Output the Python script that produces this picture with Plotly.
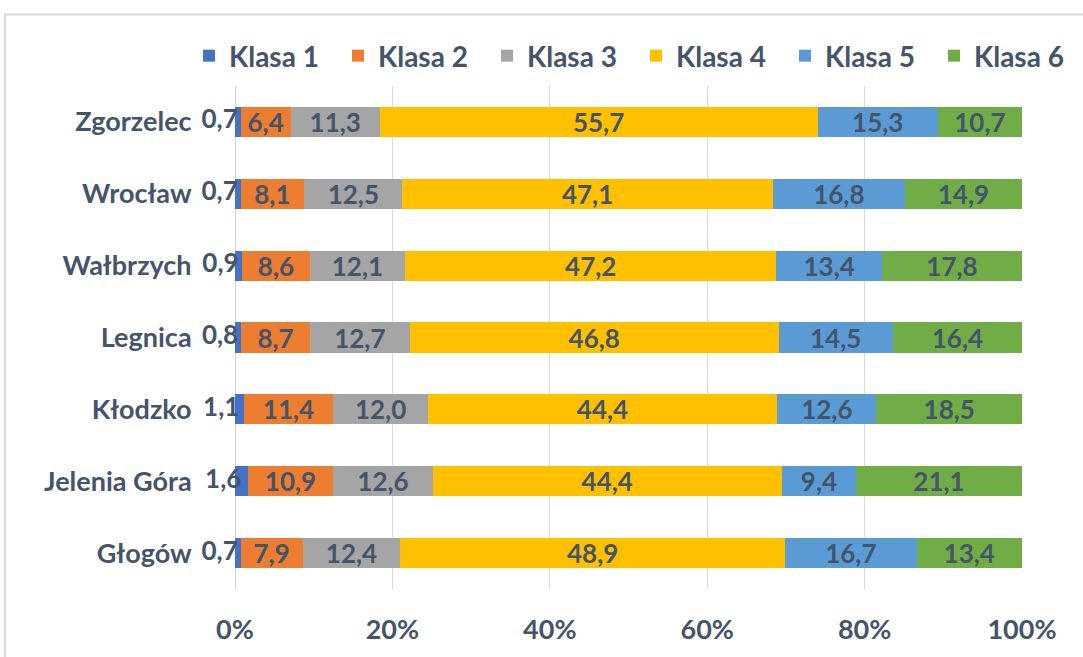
import plotly.graph_objects as go

cities = ["Głogów", "Jelenia Góra", "Kłodzko", "Legnica", "Wałbrzych", "Wrocław", "Zgorzelec"]
klasa1 = [0.7, 1.6, 1.1, 0.8, 0.9, 0.7, 0.7]
klasa2 = [7.9, 10.9, 11.4, 8.7, 8.6, 8.1, 6.4]
klasa3 = [12.4, 12.6, 12.0, 12.7, 12.1, 12.5, 11.3]
klasa4 = [48.9, 44.4, 44.4, 46.8, 47.2, 47.1, 55.7]
klasa5 = [16.7, 9.4, 12.6, 14.5, 13.4, 16.8, 15.3]
klasa6 = [13.4, 21.1, 18.5, 16.4, 17.8, 14.9, 10.7]
series_names = ["Klasa 1", "Klasa 2", "Klasa 3", "Klasa 4", "Klasa 5", "Klasa 6"]
series_values = [klasa1, klasa2, klasa3, klasa4, klasa5, klasa6]
colors = ["#4472C4", "#ED7D31", "#A5A5A5", "#FFC000", "#5B9BD5", "#70AD47"]
tick_vals = [0, 20, 40, 60, 80, 100]
tick_text = ["0%", "20%", "40%", "60%", "80%", "100%"]

FONT = "Lato"
TXT = "#44546A"


def fmt(v):
    return f"{v:.1f}".replace(".", ",")


row_totals = [sum(vals[i] for vals in series_values) for i in range(len(cities))]

fig = go.Figure()
for k, (name, vals, col) in enumerate(zip(series_names, series_values, colors)):
    fig.add_trace(go.Bar(
        y=cities, x=vals, name=name, orientation="h",
        marker=dict(color=col, line=dict(width=0)),
        text=[fmt(v) for v in vals],
        textposition="none" if k == 0 else "inside",
        insidetextanchor="middle", textangle=0,
        textfont=dict(family=FONT, size=26, color=TXT, weight="bold"),
        constraintext="none",
    ))

# labels of the thin first segment, ending at the segment centre (overflowing like the original)
fig.add_trace(go.Scatter(
    y=cities, x=[v / 2 * 100 / t for v, t in zip(klasa1, row_totals)],
    mode="text", text=[fmt(v) for v in klasa1], textposition="middle left",
    textfont=dict(family=FONT, size=26, color=TXT, weight="bold"),
    showlegend=False, cliponaxis=False, hoverinfo="skip",
))

fig.update_layout(
    barmode="stack", barnorm="percent", bargap=0.58,
    width=1083, height=657,
    margin=dict(l=235, r=61, t=86, b=64),
    paper_bgcolor="white", plot_bgcolor="white",
    uniformtext=dict(minsize=26, mode="show"),
    font=dict(family=FONT, color=TXT),
    legend=dict(orientation="h", x=-0.001, xanchor="left", y=1.01, yanchor="bottom",
                font=dict(family=FONT, size=28, color=TXT, weight="bold"),
                traceorder="normal", itemwidth=30, entrywidth=104),
    showlegend=True,
)
fig.update_xaxes(range=[0, 100], tickvals=tick_vals, ticktext=tick_text,
                 showgrid=True, gridcolor="#D9D9D9", gridwidth=1,
                 zeroline=False, showline=False,
                 tickfont=dict(family=FONT, size=27, color=TXT, weight="bold"),
                 ticks="outside", ticklen=17, tickcolor="rgba(0,0,0,0)")
fig.update_yaxes(tickfont=dict(family=FONT, size=27, color=TXT, weight="bold"),
                 ticks="outside", ticklen=37, tickcolor="rgba(0,0,0,0)",
                 showline=False)
fig.add_shape(type="line", xref="x", yref="paper", x0=0, x1=0, y0=0, y1=1,
              line=dict(color="#C9D3E0", width=2), layer="below")
fig.add_shape(type="rect", xref="paper", yref="paper", x0=-0.2923, x1=1.1, y0=-0.2, y1=1.142,
              line=dict(color="#D9D9D9", width=2), layer="below")

fig.write_html("out.html", config={"displayModeBar": False},
               post_script="document.body.style.margin='0';")
